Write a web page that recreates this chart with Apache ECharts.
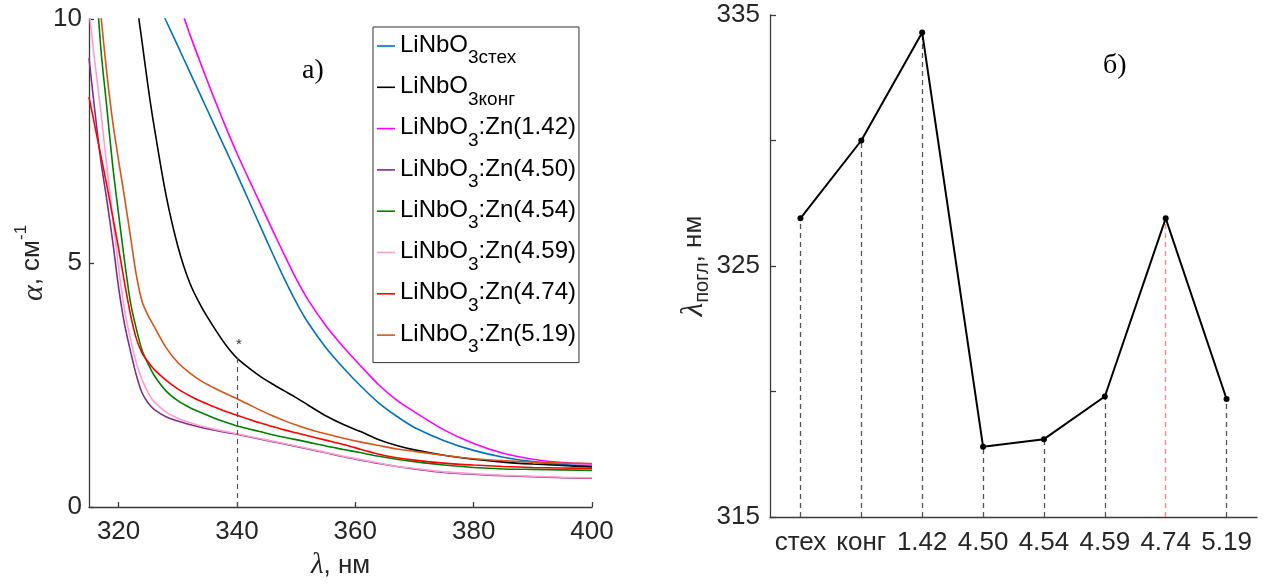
<!DOCTYPE html>
<html><head><meta charset="utf-8">
<script src="https://cdn.jsdelivr.net/npm/echarts@6/dist/echarts.min.js"></script>
<style>html,body{margin:0;padding:0;background:#fff}#c{width:1263px;height:588px}</style>
</head><body><div id="c"></div>
<script>
// ---------- data: panel (а) absorption spectra ----------
const wavelengths = [315,316,317,318,319,320,321,322,323,324,325,326,328,330,332,334,336,338,340,342,344,346,348,350,352,355,358,361,364,367,370,375,380,385,390,395,400];
const alphaStex  = [null,null,null,null,null,null,null,null,null,null,null,10.5,9.97,9.45,8.92,8.4,7.87,7.35,6.82,6.28,5.74,5.2,4.68,4.2,3.78,3.27,2.85,2.47,2.13,1.86,1.63,1.36,1.16,1.02,0.93,0.87,0.84];
const alphaKong  = [null,null,null,null,null,null,null,11.5,10.4,9.5,8.6,7.8,6.4,5.35,4.6,4.1,3.7,3.34,3.05,2.85,2.67,2.52,2.38,2.24,2.09,1.87,1.69,1.54,1.38,1.26,1.17,1.06,0.98,0.92,0.88,0.85,0.82];
const alphaZn142 = [null,null,null,null,null,null,null,null,null,null,null,null,null,10.4,9.7,9.05,8.42,7.82,7.25,6.72,6.2,5.68,5.17,4.68,4.25,3.72,3.28,2.88,2.5,2.19,1.95,1.58,1.3,1.1,0.98,0.91,0.88];
const alphaZn450 = [9.2,8.1,7.1,6.3,5.45,4.5,3.75,3.2,2.7,2.33,2.13,2.0,1.85,1.76,1.69,1.63,1.58,1.53,1.49,1.44,1.39,1.34,1.29,1.24,1.19,1.11,1.03,0.96,0.89,0.83,0.78,0.71,0.67,0.64,0.62,0.6,0.59];
const alphaZn454 = [13.5,11.2,9.4,8.2,7.0,6.0,5.05,4.2,3.65,3.2,2.93,2.7,2.38,2.18,2.04,1.93,1.83,1.74,1.66,1.6,1.54,1.48,1.43,1.38,1.33,1.25,1.18,1.11,1.04,0.98,0.93,0.86,0.81,0.78,0.77,0.76,0.75];
const alphaZn459 = [10.2,9.1,8.1,7.0,5.95,4.9,4.05,3.45,2.95,2.6,2.34,2.16,1.95,1.82,1.73,1.66,1.6,1.55,1.5,1.45,1.4,1.35,1.3,1.25,1.2,1.12,1.04,0.97,0.9,0.83,0.79,0.72,0.68,0.65,0.63,0.61,0.6];
const alphaZn474 = [8.4,7.8,7.2,6.6,5.95,5.3,4.6,3.95,3.45,3.15,2.97,2.82,2.6,2.42,2.28,2.16,2.06,1.96,1.88,1.8,1.72,1.65,1.58,1.52,1.46,1.37,1.28,1.18,1.08,1.01,0.96,0.9,0.86,0.83,0.81,0.8,0.79];
const alphaZn519 = [null,11.5,10.1,8.9,7.9,7.1,6.35,5.55,4.75,4.2,3.92,3.7,3.27,2.96,2.75,2.58,2.45,2.33,2.22,2.1,1.98,1.87,1.77,1.68,1.6,1.5,1.41,1.33,1.26,1.19,1.14,1.06,0.99,0.95,0.92,0.9,0.89];
const legendMain = ['LiNbO','LiNbO','LiNbO','LiNbO','LiNbO','LiNbO','LiNbO','LiNbO'];
const legendSub  = ['3стех','3конг','3','3','3','3','3','3'];
const legendTail = ['','',':Zn(1.42)',':Zn(4.50)',':Zn(4.54)',':Zn(4.59)',':Zn(4.74)',':Zn(5.19)'];
const xTicksA = [320,340,360,380,400];
const yTicksA = [0,5,10];
const markerLambda = 340;
const markerAlpha = 3.05;
const asteriskAlpha = 3.4;

// ---------- data: panel (б) absorption edge ----------
const categoriesB = ['стех','конг','1.42','4.50','4.54','4.59','4.74','5.19'];
const edgeValues  = [326.9, 330.0, 334.3, 317.8, 318.1, 319.8, 326.9, 319.7];
const highlightCategory = '4.74';
const yLabelsB = [315,325,335];

// ---------- styles ----------
const colors = ['#0072BD','#000000','#FF00FF','#7E2F8E','#008000','#FF9ECE','#FF0000','#D95319'];
const SANS = 'Liberation Sans';
const SERIF = 'Liberation Serif';
const AX = '#3a3a3a';
const TXT = '#262626';

const alphaSets = [alphaStex, alphaKong, alphaZn142, alphaZn450, alphaZn454, alphaZn459, alphaZn474, alphaZn519];
const names = legendMain.map((m,i)=>m+legendSub[i]+legendTail[i]);

const leftSeries = alphaSets.map((arr,i)=>{
  const s = {
    name: names[i], type:'line', xAxisIndex:0, yAxisIndex:0,
    data: wavelengths.map((w,k)=>[w,arr[k]]).filter(p=>p[1]!==null),
    symbol:'none', smooth:0.3, clip:true,
    lineStyle:{color:colors[i], width:1.6}, itemStyle:{color:colors[i]},
    z: 2
  };
  if (i===1) {
    s.markLine = {silent:true, symbol:['none','none'], label:{show:false},
      lineStyle:{color:'#555', type:[5,4], width:1.2},
      data:[[{coord:[markerLambda,0]},{coord:[markerLambda,markerAlpha]}]]};
    s.markPoint = {silent:true, symbol:'circle', symbolSize:1, itemStyle:{color:'rgba(0,0,0,0)'},
      label:{show:true, formatter:'*', color:'#333', fontSize:15, fontFamily:SANS, position:'inside', offset:[2,4]},
      data:[{coord:[markerLambda, asteriskAlpha]}]};
  }
  return s;
});

const dropLines = edgeValues.map((v,i)=>[
  {coord:[categoriesB[i],315], lineStyle:{color: categoriesB[i]===highlightCategory ? '#FF7F7F' : '#555', type:[5,4], width:1.3}},
  {coord:[categoriesB[i],v]}
]);

const option = {
  animation:false,
  textStyle:{fontFamily:SANS},
  grid:[
    {left:89, top:19, width:503, height:488},
    {left:770, top:15, width:487, height:502}
  ],
  xAxis:[
    {type:'value', gridIndex:0, min:315, max:400,
     axisLine:{show:true, onZero:false, lineStyle:{color:AX, width:1.3}},
     axisTick:{show:true, inside:true, length:5, customValues:xTicksA, lineStyle:{color:AX, width:1.3}},
     axisLabel:{customValues:xTicksA, fontSize:26, color:TXT, margin:12, fontFamily:SANS},
     splitLine:{show:false},
     name:'{l|λ}{m|, нм}', nameLocation:'middle', nameGap:44,
     nameTextStyle:{rich:{l:{fontFamily:SERIF, fontStyle:'italic', fontSize:29, color:TXT}, m:{fontFamily:SANS, fontSize:26, color:TXT}}}
    },
    {type:'category', gridIndex:1, data:categoriesB, boundaryGap:true,
     axisLine:{show:true, lineStyle:{color:AX, width:1.3}},
     axisTick:{show:false},
     axisLabel:{fontSize:26, color:TXT, margin:13, fontFamily:SANS, interval:0},
     splitLine:{show:false}
    }
  ],
  yAxis:[
    {type:'value', gridIndex:0, min:0, max:10, interval:5,
     axisLine:{show:true, onZero:false, lineStyle:{color:AX, width:1.3}},
     axisTick:{show:true, inside:true, length:5, customValues:yTicksA, lineStyle:{color:AX, width:1.3}},
     axisLabel:{customValues:yTicksA, fontSize:26, color:TXT, margin:7, fontFamily:SANS},
     splitLine:{show:false},
     name:'{a|α}{m|, см}{s|-1}', nameLocation:'middle', nameGap:40, nameRotate:90,
     nameTextStyle:{rich:{
       a:{fontFamily:SERIF, fontStyle:'italic', fontSize:30, color:TXT, lineHeight:30, padding:[6,0,0,0], verticalAlign:'top'},
       m:{fontFamily:SANS, fontSize:26, color:TXT, lineHeight:28, padding:[6,0,0,0], verticalAlign:'top'},
       s:{fontFamily:SANS, fontSize:17, color:TXT, lineHeight:18, verticalAlign:'top'}
     }}
    },
    {type:'value', gridIndex:1, min:315, max:335, interval:5,
     axisLine:{show:true, onZero:false, lineStyle:{color:AX, width:1.3}},
     axisTick:{show:true, inside:true, length:6, lineStyle:{color:AX, width:1.3}},
     axisLabel:{customValues:yLabelsB, fontSize:26, color:TXT, margin:10, fontFamily:SANS},
     splitLine:{show:false},
     name:'{l|λ}{s|погл}{m|, нм}', nameLocation:'middle', nameGap:48, nameRotate:90,
     nameTextStyle:{rich:{
       l:{fontFamily:SERIF, fontStyle:'italic', fontSize:31, color:TXT, lineHeight:30, verticalAlign:'top'},
       s:{fontFamily:SANS, fontSize:20, color:TXT, lineHeight:20, padding:[14,0,0,0], verticalAlign:'top'},
       m:{fontFamily:SANS, fontSize:26, color:TXT, lineHeight:28, padding:[2,0,0,0], verticalAlign:'top'}
     }}
    }
  ],
  legend:{
    data:names, orient:'vertical', left:373, top:27,
    padding:[6,3,6,4], itemGap:6.8, itemWidth:18, itemHeight:1.6, icon:'rect',
    backgroundColor:'#fff', borderColor:'#333', borderWidth:1, borderRadius:0,
    selectedMode:false,
    formatter:(n)=>{const i=names.indexOf(n); return '{m|'+legendMain[i]+'}{s|'+legendSub[i]+'}'+(legendTail[i]?'{m|'+legendTail[i]+'}':'');},
    textStyle:{rich:{
      m:{fontFamily:SANS, fontSize:24, color:'#000', lineHeight:26, verticalAlign:'top'},
      s:{fontFamily:SANS, fontSize:19, color:'#000', lineHeight:20, padding:[15.5,0,0,0], verticalAlign:'top'}
    }}
  },
  graphic:[
    {type:'text', left:302, top:57, style:{text:'а)', font:'28px "Liberation Serif"', fill:'#000'}},
    {type:'text', left:1103, top:52, style:{text:'б)', font:'28px "Liberation Serif"', fill:'#000'}}
  ],
  series: leftSeries.concat([{
    name:'edge', type:'line', xAxisIndex:1, yAxisIndex:1, data:edgeValues,
    symbol:'circle', symbolSize:6, lineStyle:{color:'#000', width:2}, itemStyle:{color:'#000'},
    z:3,
    markLine:{silent:true, symbol:['none','none'], label:{show:false}, data:dropLines, z:1}
  }])
};
echarts.init(document.getElementById('c')).setOption(option);
</script>
</body></html>
